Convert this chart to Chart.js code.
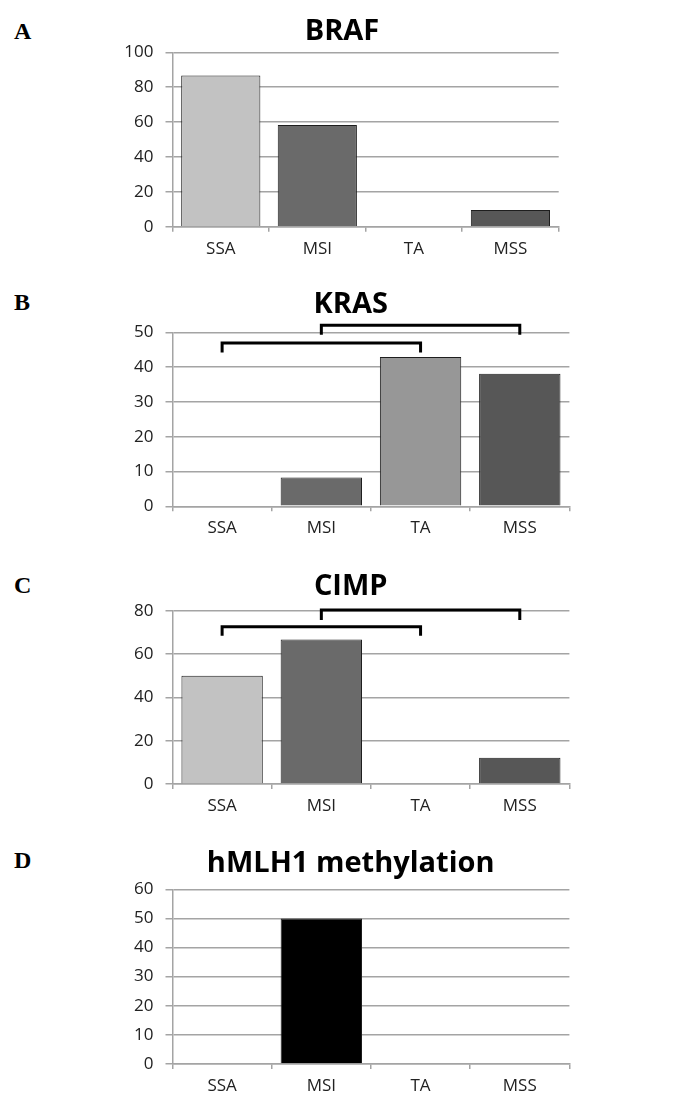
<!DOCTYPE html>
<html>
<head>
<meta charset="utf-8">
<script src="https://cdn.jsdelivr.net/npm/chart.js@4.4.1/dist/chart.umd.min.js"></script>
<style>
  body { margin: 0; background: #fff; width: 688px; height: 1093px; position: relative; overflow: hidden; }
  canvas { position: absolute; left: 0; }
  .lbl { position: absolute; font: bold 24px "Liberation Serif", "Times New Roman", serif; line-height: 24px; color: #000; }
</style>
</head>
<body>
<div class="lbl" style="left:14px;top:19px">A</div>
<div class="lbl" style="left:14px;top:290px">B</div>
<div class="lbl" style="left:14px;top:573px">C</div>
<div class="lbl" style="left:14px;top:848px">D</div>

<canvas id="chartA" width="688" height="270" style="top:0px"></canvas>
<canvas id="chartB" width="688" height="270" style="top:270px"></canvas>
<canvas id="chartC" width="688" height="280" style="top:540px"></canvas>
<canvas id="chartD" width="688" height="283" style="top:810px"></canvas>

<script>
const categories = ['SSA', 'MSI', 'TA', 'MSS'];

const brafValues = [86.7, 58.3, 0, 9.6];
const krasValues = [0, 8.3, 42.9, 38.1];
const cimpValues = [50, 66.7, 0, 12.1];
const hmlh1Values = [0, 50, 0, 0];

const titles = ['BRAF', 'KRAS', 'CIMP', 'hMLH1 methylation'];
const yMax = [100, 50, 80, 60];
const yStep = [20, 10, 20, 10];

// significance brackets (category index from/to, top level, leg end level)
const krasBracketFrom = [0, 1];
const krasBracketTo = [2, 3];
const krasBracketTop = [46.9, 52.0];
const krasBracketEnd = [44.2, 49.3];

const cimpBracketFrom = [0, 1];
const cimpBracketTo = [2, 3];
const cimpBracketTop = [72.6, 80.3];
const cimpBracketEnd = [68.4, 75.7];

const greys = ['#c2c2c2', '#6a6a6a', '#979797', '#575757'];
const blacks = ['#000', '#000', '#000', '#000'];
const gridGrey = '#a4a4a4';

const bracketPlugin = {
  id: 'brackets',
  afterDatasetsDraw(chart, args, opts) {
    if (!opts.from) return;
    const ctx = chart.ctx;
    const x = chart.scales.x, y = chart.scales.y;
    ctx.save();
    ctx.strokeStyle = '#000';
    ctx.lineWidth = 3;
    ctx.lineJoin = 'miter';
    for (let i = 0; i < opts.from.length; i++) {
      const x1 = x.getPixelForValue(opts.from[i]);
      const x2 = x.getPixelForValue(opts.to[i]);
      const yt = y.getPixelForValue(opts.top[i]);
      const ye = y.getPixelForValue(opts.end[i]);
      ctx.beginPath();
      ctx.moveTo(x1, ye);
      ctx.lineTo(x1, yt);
      ctx.lineTo(x2, yt);
      ctx.lineTo(x2, ye);
      ctx.stroke();
    }
    ctx.restore();
  }
};

function makeChart(id, n, values, colors, pad, brackets) {
  new Chart(document.getElementById(id), {
    type: 'bar',
    data: {
      labels: categories,
      datasets: [{
        data: values,
        backgroundColor: colors,
        borderColor: '#1e1e1e',
        borderWidth: 1,
        borderSkipped: 'bottom',
        barPercentage: 0.82,
        categoryPercentage: 1.0
      }]
    },
    plugins: [bracketPlugin],
    options: {
      responsive: false,
      animation: false,
      devicePixelRatio: 1,
      layout: { padding: { left: pad.left, right: pad.right, top: 0, bottom: pad.bottom } },
      plugins: {
        legend: { display: false },
        tooltip: { enabled: false },
        title: {
          display: true,
          text: titles[n],
          color: '#000',
          font: { family: '"Open Sans", sans-serif', size: 29, weight: 'bold', lineHeight: 1.2 },
          padding: { top: pad.titleTop, bottom: pad.titleBottom }
        },
        brackets: brackets || {}
      },
      scales: {
        x: {
          afterFit: s => { s.height = 28; },
          grid: { display: true, drawOnChartArea: false, drawTicks: true, tickLength: 5, color: gridGrey, lineWidth: 1.5, offset: true },
          border: { color: gridGrey, width: 1.5 },
          ticks: { color: '#222', padding: 7, font: { family: '"Open Sans", sans-serif', size: 17 } }
        },
        y: {
          min: 0,
          max: yMax[n],
          afterFit: s => { s.width = pad.yWidth; },
          grid: { color: gridGrey, lineWidth: 1.5, tickLength: 7 },
          border: { color: gridGrey, width: 1.5 },
          ticks: { stepSize: yStep[n], color: '#222', padding: 12, font: { family: '"Open Sans", sans-serif', size: 17 } }
        }
      }
    }
  });
}

makeChart('chartA', 0, brafValues, greys,
  { left: 125.3, right: 129.3, bottom: 15.3, yWidth: 47.2, titleTop: 14.6, titleBottom: 2.9 });
makeChart('chartB', 1, krasValues, greys,
  { left: 132, right: 118.6, bottom: 5.7, yWidth: 40.5, titleTop: 17.6, titleBottom: 9.9 },
  { from: krasBracketFrom, to: krasBracketTo, top: krasBracketTop, end: krasBracketEnd });
makeChart('chartC', 2, cimpValues, greys,
  { left: 132, right: 118.6, bottom: 8, yWidth: 40.5, titleTop: 29.3, titleBottom: 6.6 },
  { from: cimpBracketFrom, to: cimpBracketTo, top: cimpBracketTop, end: cimpBracketEnd });
makeChart('chartD', 3, hmlh1Values, blacks,
  { left: 132, right: 118.6, bottom: 1, yWidth: 40.5, titleTop: 35.9, titleBottom: 8.6 });
</script>
</body>
</html>
